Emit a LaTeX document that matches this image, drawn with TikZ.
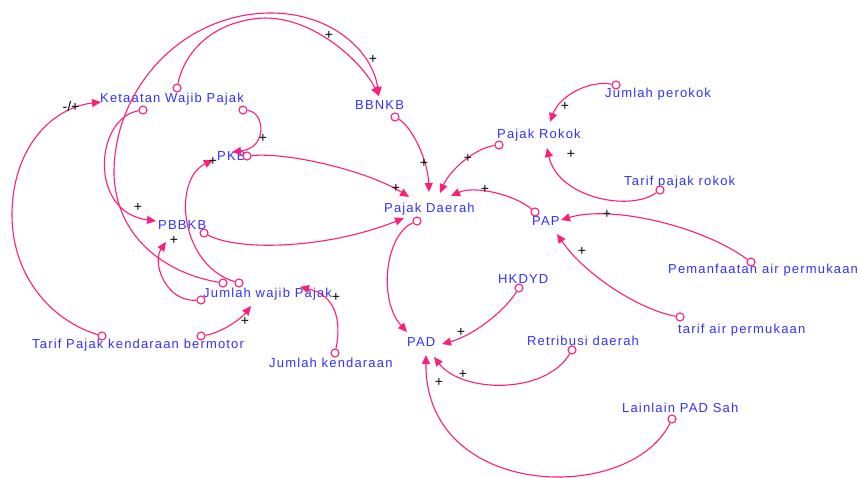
\documentclass[tikz,border=0pt]{standalone}
\usepackage{fontspec}
\setmainfont{Liberation Sans}
\newfontfamily\vfont{Liberation Sans}[LetterSpace=9]
\usetikzlibrary{arrows.meta}
\definecolor{lnk}{RGB}{255,30,120}
\definecolor{txt}{RGB}{50,50,255}
\begin{document}
\begin{tikzpicture}[x=1pt,y=-1pt,
  var/.style={anchor=base west, inner sep=0pt, text=txt, font=\vfont\fontsize{13}{15}\selectfont},
  tail/.style={circle, draw=lnk, fill=white, line width=1.1pt, minimum size=8pt, inner sep=0pt},
  link/.style={draw=lnk, line width=1.1pt, -{Triangle[length=9pt,width=8pt]}},
  pol/.style={inner sep=0pt, font=\fontsize{14}{16}\selectfont, text=black}]
\useasboundingbox[fill=white] (0,0) rectangle (860,477);
% variables
\node[var] (KWP) at (100,102) {Ketaatan Wajib Pajak};
\node[var] (BBNKB) at (355,109) {BBNKB};
\node[var] (PKB) at (217,160) {PKB};
\node[var] (PD) at (384,212) {Pajak Daerah};
\node[var] (PR) at (497,138) {Pajak Rokok};
\node[var] (JPR) at (605,97) {Jumlah perokok};
\node[var] (TPR) at (624,185) {Tarif pajak rokok};
\node[var] (PAP) at (532,225) {PAP};
\node[var] (PBBKB) at (158,229) {PBBKB};
\node[var] (PAM) at (668,273) {Pemanfaatan air permukaan};
\node[var] (HK) at (498,283) {HKDYD};
\node[var] (JWP) at (203,297) {Jumlah wajib Pajak};
\node[var] (TAP) at (678,333) {tarif air permukaan};
\node[var] (TPK) at (32,348) {Tarif Pajak kendaraan bermotor};
\node[var] (PAD) at (407,346) {PAD};
\node[var] (RD) at (527,345) {Retribusi daerah};
\node[var] (JK) at (269,367) {Jumlah kendaraan};
\node[var] (LL) at (622,412) {Lainlain PAD Sah};
% tails
\node[tail] (tBB) at (395,117) {};
\node[tail] (tPR) at (499,145) {};
\node[tail] (tPAP) at (535,212) {};
\node[tail] (tPKB) at (247,156) {};
\node[tail] (tPBBKB) at (204,233) {};
\node[tail] (tPD) at (417,221) {};
\node[tail] (tHK) at (519,288) {};
\node[tail] (tRD) at (572,350) {};
\node[tail] (tLL) at (672,419) {};
\node[tail] (tJP) at (616,85) {};
\node[tail] (tTPR) at (660,190) {};
\node[tail] (tPAM) at (751,262) {};
\node[tail] (tTAP) at (680,317) {};
\node[tail] (tJK) at (335,353) {};
\node[tail] (tTPK1) at (201,336) {};
\node[tail] (tTPK2) at (102,336) {};
\node[tail] (tKW1) at (177,88) {};
\node[tail] (tKW2) at (243,110) {};
\node[tail] (tKW3) at (143,110) {};
\node[tail] (tJW1) at (223,283) {};
\node[tail] (tJW2) at (239,283) {};
\node[tail] (tJW3) at (201,300) {};
% heads
\coordinate (hPD1) at (429,192);
\coordinate (hPD2) at (440,193);
\coordinate (hPD3) at (451,196);
\coordinate (hPD4) at (409,197);
\coordinate (hPD5) at (404,218);
\coordinate (hPAD1) at (407,332);
\coordinate (hPAD2) at (442,344);
\coordinate (hPAD3) at (434,357);
\coordinate (hPAD4) at (426,355);
\coordinate (hPR1) at (550,122);
\coordinate (hPR2) at (547,148);
\coordinate (hPAP1) at (561,220);
\coordinate (hPAP2) at (557,234);
\coordinate (hJW1) at (300,287);
\coordinate (hJW2) at (251,306);
\coordinate (hKW) at (101,102);
\coordinate (hBB) at (379,96);
\coordinate (hPKB1) at (232,152);
\coordinate (hPKB2) at (213,160);
\coordinate (hPB1) at (156,221);
\coordinate (hPB2) at (166,242);
% links
\draw[link] (tBB) .. controls (412,127) and (428,160) .. (hPD1);
\draw[link] (tPR) .. controls (475,148) and (450,170) .. (hPD2);
\draw[link] (tPAP) .. controls (515,195) and (475,185) .. (hPD3);
\draw[link] (tPKB) .. controls (290,152) and (370,172) .. (hPD4);
\draw[link] (tPBBKB) .. controls (240,252) and (330,248) .. (hPD5);
\draw[link] (tPD) .. controls (385,235) and (378,300) .. (hPAD1);
\draw[link] (tHK) .. controls (505,310) and (475,335) .. (hPAD2);
\draw[link] (tRD) .. controls (545,395) and (462,393) .. (hPAD3);
\draw[link] (tLL) .. controls (630,505) and (425,500) .. (hPAD4);
\draw[link] (tJP) .. controls (590,80) and (560,95) .. (hPR1);
\draw[link] (tTPR) .. controls (630,212) and (558,198) .. (hPR2);
\draw[link] (tPAM) .. controls (700,225) and (610,205) .. (hPAP1);
\draw[link] (tTAP) .. controls (640,310) and (585,275) .. (hPAP2);
\draw[link] (tJK) .. controls (342,320) and (335,295) .. (hJW1);
\draw[link] (tTPK1) .. controls (220,333) and (240,320) .. (hJW2);
\draw[link] (tTPK2) .. controls (50,320) and (12,275) .. (12,215) .. controls (12,150) and (50,108) .. (hKW);
\draw[link] (tKW1) .. controls (185,50) and (215,20) .. (265,18) .. controls (315,18) and (362,62) .. (hBB);
\draw[link] (tJW1) .. controls (175,275) and (117,245) .. (114,175) .. controls (113,90) and (180,15) .. (268,13) .. controls (330,12) and (372,50) .. (hBB);
\draw[link] (tKW2) .. controls (265,112) and (268,148) .. (hPKB1);
\draw[link] (tJW2) .. controls (180,265) and (172,180) .. (hPKB2);
\draw[link] (tJW3) .. controls (165,302) and (152,262) .. (hPB2);
\draw[link] (tKW3) .. controls (95,118) and (88,212) .. (hPB1);
% polarities
\node[pol] (p1) at (424,163) {+};
\node[pol] (p2) at (468,158) {+};
\node[pol] (p3) at (485,189) {+};
\node[pol] (p4) at (396,188) {+};
\node[pol] (p7) at (461,332) {+};
\node[pol] (p8) at (463,374) {+};
\node[pol] (p9) at (439,382) {+};
\node[pol] (p10) at (565,106) {+};
\node[pol] (p11) at (571,154) {+};
\node[pol] (p12) at (607,214) {+};
\node[pol] (p13) at (582,251) {+};
\node[pol] (p14) at (336,297) {+};
\node[pol] (p15) at (245,321) {+};
\node[pol] (p16) at (71,106) {-/+};
\node[pol] (p17) at (329,35) {+};
\node[pol] (p18) at (373,59) {+};
\node[pol] (p19) at (263,138) {+};
\node[pol] (p20) at (213,161) {+};
\node[pol] (p21) at (174,240) {+};
\node[pol] (p22) at (138,207) {+};
\end{tikzpicture}
\end{document}
